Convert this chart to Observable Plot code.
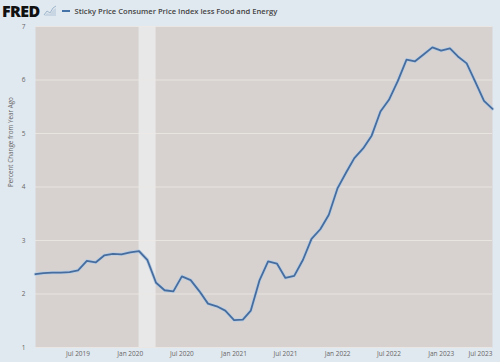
<!DOCTYPE html>
<html>
<head>
<meta charset="utf-8">
<script src="https://cdn.jsdelivr.net/npm/d3@7"></script>
<script src="https://cdn.jsdelivr.net/npm/@observablehq/plot@0.6"></script>
<style>
  html, body { margin: 0; padding: 0; background: #e1e9f0; }
  #wrap { position: relative; width: 500px; height: 362px; background: #e1e9f0; font-family: "Open Sans", sans-serif; overflow: hidden; }
  #head { position: absolute; left: 2px; top: 1px; height: 20px; display: flex; align-items: center; z-index: 2; }
  #logo { font-family: "Open Sans", sans-serif; font-weight: 800; font-size: 16px; letter-spacing: -0.6px; color: #111; }
  #icon { margin-left: 3px; }
  #leg { margin-left: 5px; width: 8px; height: 2px; background: #4572a7; }
  #title { margin-left: 5px; font-size: 7.6px; font-weight: 600; color: #444; }
  #chart { position: absolute; left: 0; top: 0; }
</style>
</head>
<body>
<div id="wrap">
  <div id="head">
    <span id="logo">FRED</span>
    <svg id="icon" width="14" height="12" viewBox="0 0 14 12">
      <path d="M1 10 L4 6 L7 8 L10 3 L13 1" fill="none" stroke="#9fb6cc" stroke-width="1"/>
      <path d="M1 11 L4 8 L7 9 L10 5 L13 3 L13 11 Z" fill="#c8d5e2"/>
    </svg>
    <span id="leg"></span>
    <span id="title">Sticky Price Consumer Price Index less Food and Energy</span>
  </div>
  <div id="chart"></div>
</div>
<script>
// Monthly observations, Feb 2019 – Jul 2023 (percent change from year ago)
const months = [
  "2019-02","2019-03","2019-04","2019-05","2019-06","2019-07","2019-08","2019-09","2019-10","2019-11","2019-12",
  "2020-01","2020-02","2020-03","2020-04","2020-05","2020-06","2020-07","2020-08","2020-09","2020-10","2020-11","2020-12",
  "2021-01","2021-02","2021-03","2021-04","2021-05","2021-06","2021-07","2021-08","2021-09","2021-10","2021-11","2021-12",
  "2022-01","2022-02","2022-03","2022-04","2022-05","2022-06","2022-07","2022-08","2022-09","2022-10","2022-11","2022-12",
  "2023-01","2023-02","2023-03","2023-04","2023-05","2023-06","2023-07"
];
const values = [
  2.37, 2.39, 2.40, 2.40, 2.41, 2.44, 2.62, 2.59, 2.72, 2.75, 2.74,
  2.78, 2.80, 2.64, 2.21, 2.07, 2.05, 2.33, 2.26, 2.05, 1.82, 1.77, 1.69,
  1.51, 1.52, 1.69, 2.26, 2.61, 2.57, 2.30, 2.34, 2.64, 3.03, 3.21, 3.48,
  3.98, 4.28, 4.54, 4.72, 4.96, 5.41, 5.63, 5.98, 6.38, 6.35, 6.48, 6.61,
  6.55, 6.59, 6.44, 6.31, 5.97, 5.61, 5.46
];
const recession = [{start: "2020-02", end: "2020-04"}];
const yTicks = [1, 2, 3, 4, 5, 6, 7];
const xTickMonths = ["2019-07","2020-01","2020-07","2021-01","2021-07","2022-01","2022-07","2023-01","2023-07"];
const yLabel = "Percent Change from Year Ago";

const parse = d3.utcParse("%Y-%m");
const data = months.map((m, i) => ({date: parse(m), value: values[i]}));
const rec = recession.map(r => ({x1: parse(r.start), x2: parse(r.end)}));
const xTicks = xTickMonths.map(parse);
const fmt = d3.utcFormat("%b %Y");
const lastTick = xTicks[xTicks.length - 1];

const chart = Plot.plot({
  width: 500,
  height: 362,
  marginTop: 26,
  marginBottom: 15,
  marginLeft: 35,
  marginRight: 8,
  style: {background: "transparent", fontFamily: "'Open Sans', sans-serif", fontSize: "6.5px", color: "#666"},
  x: {type: "utc", domain: [data[0].date, data[data.length - 1].date]},
  y: {domain: [1, 7]},
  marks: [
    Plot.frame({fill: "#d7d2cf", stroke: null}),
    Plot.rect(rec, {x1: "x1", x2: "x2", fill: "#e8e8e8"}),
    Plot.gridY(yTicks, {stroke: "#ece8e5", strokeOpacity: 1, strokeWidth: 0.8}),
    Plot.axisY(yTicks, {tickSize: 0, tickPadding: 10, tickFormat: d => String(d), label: null, fill: "#666", fontSize: 6.5}),
    Plot.text([yLabel], {frameAnchor: "left", dx: -25, rotate: -90, text: d => d, fill: "#666", fontSize: 6.3}),
    Plot.axisX(xTicks.slice(0, -1), {tickSize: 0, tickPadding: 4, tickFormat: fmt, label: null, fill: "#666", fontSize: 6.5}),
    Plot.text([lastTick], {x: d => d, frameAnchor: "bottom", dy: 8, textAnchor: "end", text: d => fmt(d), fill: "#666", fontSize: 6.5}),
    Plot.line(data, {x: "date", y: "value", stroke: "#b9cde3", strokeWidth: 3.4, strokeLinejoin: "round"}),
    Plot.line(data, {x: "date", y: "value", stroke: "#476d9e", strokeWidth: 1.8, strokeLinejoin: "round"})
  ]
});
document.getElementById("chart").appendChild(chart);
</script>
</body>
</html>
